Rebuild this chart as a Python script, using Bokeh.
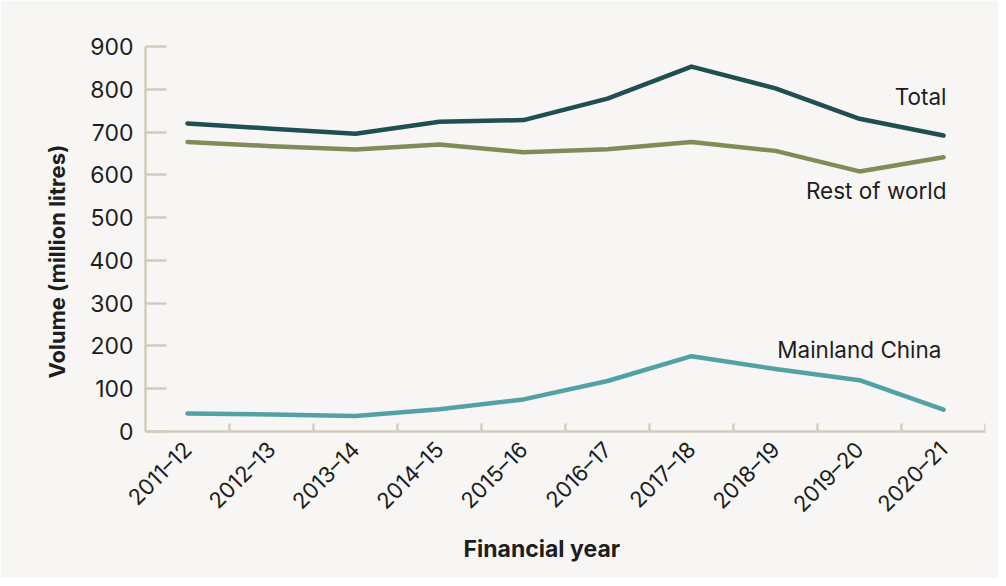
import math
from bokeh.plotting import figure
from bokeh.models import FactorRange, Range1d, FixedTicker, Title
from bokeh.core.properties import value
from bokeh.embed import file_html
from bokeh.resources import INLINE

years = ["2011–12", "2012–13", "2013–14", "2014–15", "2015–16",
         "2016–17", "2017–18", "2018–19", "2019–20", "2020–21"]
total = [720, 708, 696, 724, 728, 778, 853, 802, 731, 692]
rest_of_world = [677, 667, 659, 671, 653, 660, 677, 656, 608, 641]
mainland_china = [42, 40, 36, 52, 75, 118, 176, 146, 120, 51]
y_ticks = [0, 100, 200, 300, 400, 500, 600, 700, 800, 900]

FONT = "Inter"
BG = "#f7f6f4"
AXIS = "#d3ccbe"
TXT = "#1e1e1e"
C_TOTAL = "#1f4f50"
C_ROW = "#7f8c59"
C_CHINA = "#52a1a5"

p = figure(x_range=FactorRange(*years, range_padding=0),
           y_range=Range1d(0, 900),
           frame_width=840, frame_height=385,
           min_border_left=145, min_border_right=13,
           min_border_top=46, min_border_bottom=147,
           output_backend="svg", toolbar_location=None,
           background_fill_color=BG, border_fill_color=BG)
p.outline_line_color = None
p.xgrid.visible = False
p.ygrid.visible = False

# y axis
ya = p.yaxis[0]
ya.ticker = FixedTicker(ticks=y_ticks)
ya.axis_line_color = AXIS
ya.axis_line_width = 2.5
ya.major_tick_line_color = AXIS
ya.major_tick_line_width = 2.5
ya.major_tick_in = 21
ya.major_tick_out = 0
ya.minor_tick_line_color = None
ya.major_label_standoff = 12
ya.major_label_text_font = FONT
ya.major_label_text_font_size = "23px"
ya.major_label_text_color = TXT

# x axis
xa = p.xaxis[0]
xa.axis_line_color = AXIS
xa.axis_line_width = 2.5
xa.major_tick_line_color = None
xa.major_label_orientation = math.pi / 4
xa.major_label_standoff = 8
xa.major_label_text_font = FONT
xa.major_label_text_font_size = "22px"
xa.major_label_text_color = TXT

# axis titles
p.add_layout(Title(text="Financial year", align="left", offset=318,
                   text_font=FONT, text_font_size="23px", text_font_style="bold",
                   text_color=TXT, standoff=6), "below")
p.add_layout(Title(text="Volume (million litres)", align="left", offset=53,
                   text_font=FONT, text_font_size="22px", text_font_style="bold",
                   text_color=TXT, standoff=33), "left")

# boundary ticks on x axis (synthetic category coordinates), pointing up 8px
tick_h = 8 / 385 * 900
bounds = list(range(1, len(years) + 1))
p.segment(x0=bounds, y0=[0] * len(bounds), x1=bounds, y1=[tick_h] * len(bounds),
          line_color=AXIS, line_width=2.5)

for vals, col in [(mainland_china, C_CHINA), (rest_of_world, C_ROW), (total, C_TOTAL)]:
    p.line(x=years, y=vals, line_color=col, line_width=4.5,
           line_cap="round", line_join="round")

def lab(txt, yv, xo, yo):
    p.text(x=[years[-1]], y=[yv], text=[txt], x_offset=xo, y_offset=yo,
           text_align="right", text_baseline="middle",
           text_font=value(FONT), text_font_size="22.5px", text_color=TXT)

lab("Total", total[-1], 3, -39)
lab("Rest of world", rest_of_world[-1], 3, 33)
lab("Mainland China", mainland_china[-1], -2, -60)

open("out.html", "w").write(file_html(p, INLINE))
